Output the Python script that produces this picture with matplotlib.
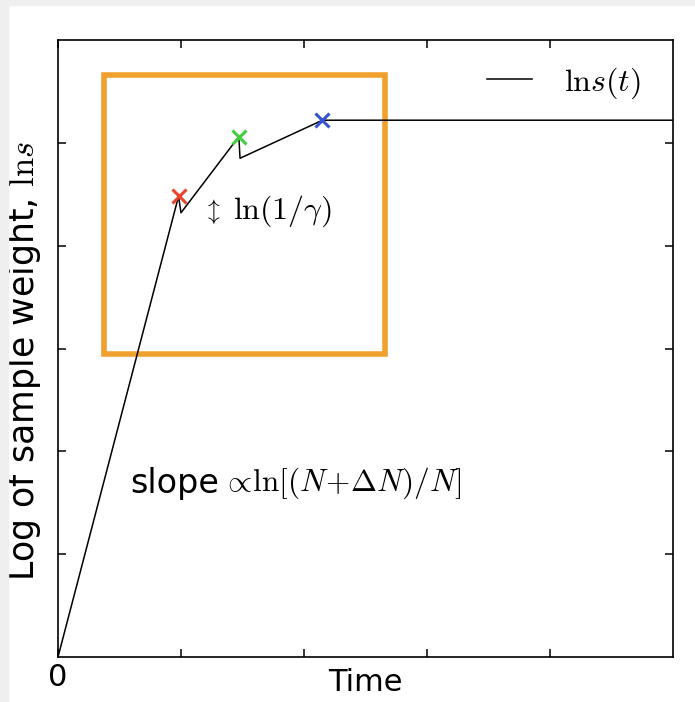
import matplotlib
matplotlib.use('Agg')
import matplotlib.pyplot as plt
from matplotlib.patches import Rectangle

plt.rcParams['mathtext.fontset'] = 'cm'
plt.rcParams['font.family'] = 'DejaVu Sans'

# ln s(t): linear growth, two drops of ln(1/gamma), then a plateau
t_vals = [0.0, 0.98, 1.00, 1.47, 1.48, 2.15, 5.0]
lns_vals = [0.0, 4.48, 4.32, 5.06, 4.85, 5.22, 5.22]

# resampling events marked with crosses
event_t = [0.98, 1.47, 2.15]
event_lns = [4.48, 5.06, 5.22]
event_colors = ['#e8432b', '#3fcf3f', '#3454d1']

x_ticks = [0, 1, 2, 3, 4]
x_ticklabels = ['0', '', '', '', '']
y_ticks = [1, 2, 3, 4, 5]

# zoomed region highlighted by the orange frame (t0, lns0, t1, lns1)
box = [0.374, 2.95, 2.66, 5.66]

fig = plt.figure(figsize=(6.95, 7.02), dpi=100)
fig.patch.set_facecolor('white')
fig.patches.append(Rectangle((0, 1 - 5 / 702), 1, 5 / 702, transform=fig.transFigure,
                             color='#efefef', zorder=0))
fig.patches.append(Rectangle((0, 0), 8 / 695, 1, transform=fig.transFigure,
                             color='#efefef', zorder=0))

ax = fig.add_axes([58 / 695, 45 / 702, 615 / 695, 617 / 702])
ax.plot(t_vals, lns_vals, color='black', lw=1.1, label=r'$\mathrm{ln}s(t)$', zorder=3)
for t, v, c in zip(event_t, event_lns, event_colors):
    ax.plot(t, v, marker='x', color=c, ms=10, mew=2.2, zorder=4)

ax.add_patch(Rectangle((box[0], box[1]), box[2] - box[0], box[3] - box[1],
                       fill=False, edgecolor='#f0a02c', lw=4.0, clip_on=False, zorder=2))

ax.set_xlim(0, 5)
ax.set_ylim(0, 6)
ax.set_xticks(x_ticks)
ax.set_xticklabels(x_ticklabels, fontsize=22)
ax.set_yticks(y_ticks)
ax.set_yticklabels([])
ax.tick_params(direction='in', length=6, width=1.1, top=True, right=True, pad=4)
for s in ax.spines.values():
    s.set_linewidth(1.2)

ax.set_xlabel('Time', fontsize=22)
ax.xaxis.set_label_coords(0.5, -0.018)
ax.set_ylabel(r'Log of sample weight, $\mathrm{ln}s$', fontsize=25)
ax.yaxis.set_label_coords(-0.024, 0.48)

ax.text(1.25, 4.33, r'$\updownarrow$', fontsize=17, ha='center', va='center')
ax.text(1.42, 4.33, r'$\ln(1/\gamma)$', fontsize=23, ha='left', va='center')
ax.text(0.585, 1.69, 'slope', fontsize=24, ha='left', va='center')
ax.text(1.33, 1.69, r'$\propto\!\ln[(N\!+\!\Delta N)/N]$', fontsize=22.5,
        ha='left', va='center')

ax.legend(loc='upper right', frameon=False, fontsize=23, handlelength=1.4,
          handletextpad=1.0, bbox_to_anchor=(0.994, 1.006))

fig.savefig('out.png', dpi=100)
